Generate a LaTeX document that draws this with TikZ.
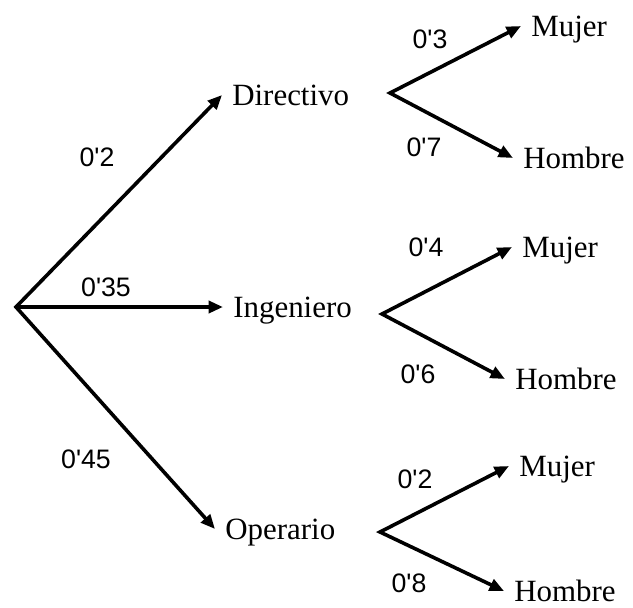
\documentclass[tikz,border=0pt]{standalone}
\usepackage{fontspec}
\setmainfont{Liberation Serif}
\newfontfamily\numfont{Liberation Sans}
\usetikzlibrary{arrows.meta}
\newcommand{\pq}[1]{0\textquotesingle#1}
\tikzset{
  punta/.tip={Triangle[length=0.36cm,width=0.3cm]},
  rama/.style={line width=0.09cm, line join=miter, -punta},
  ramados/.style={line width=0.09cm, line join=miter, punta-punta},
  etiq/.style={anchor=west, inner xsep=0.25cm, inner ysep=0pt, text height=0.52cm, text depth=0cm, font=\fontsize{22}{26}\selectfont},
  prob/.style={inner sep=0pt, font=\numfont\fontsize{19}{22}\selectfont}
}

\begin{document}
\begin{tikzpicture}[x=0.025cm, y=-0.025cm]
  \useasboundingbox (0,0) rectangle (633,607);

  % first level
  \coordinate (raiz) at (16,307);
  \node[etiq] (dir) at (222,95) {Directivo};
  \node[etiq] (ing) at (223,307) {Ingeniero};
  \node[etiq] (ope) at (215,529) {Operario};

  \draw[ramados] (dir.west) -- (raiz) -- (ope.west);
  \draw[rama] (raiz) -- (ing.west);

  \node[prob] at (97,157) {\pq{2}};
  \node[prob] at (106,287) {\pq{35}};
  \node[prob] at (86,459) {\pq{45}};

  % second level
  \coordinate (dirv) at (390,93);
  \coordinate (ingv) at (382,314);
  \coordinate (opev) at (380,532);

  \node[etiq] (dirM) at (521,26) {Mujer};
  \node[etiq] (dirH) at (513,158) {Hombre};
  \node[etiq] (ingM) at (512,247) {Mujer};
  \node[etiq] (ingH) at (505,379) {Hombre};
  \node[etiq] (opeM) at (509,466) {Mujer};
  \node[etiq] (opeH) at (504,591) {Hombre};

  \draw[ramados] (dirM.west) -- (dirv) -- (dirH.west);
  \draw[ramados] (ingM.west) -- (ingv) -- (ingH.west);
  \draw[ramados] (opeM.west) -- (opev) -- (opeH.west);

  \node[prob] at (430,39) {\pq{3}};
  \node[prob] at (424,147) {\pq{7}};
  \node[prob] at (426,247) {\pq{4}};
  \node[prob] at (418,374) {\pq{6}};
  \node[prob] at (415,479) {\pq{2}};
  \node[prob] at (409,583) {\pq{8}};
\end{tikzpicture}
\end{document}
